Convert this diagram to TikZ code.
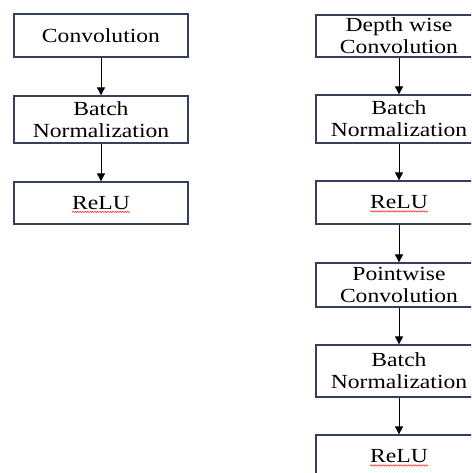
\documentclass[tikz,border=0pt]{standalone}
\usepackage{fontspec}
\setmainfont{Liberation Serif}
\newfontfamily\widefont[FakeStretch=1.18]{Liberation Serif}
\usetikzlibrary{arrows.meta,decorations.pathmorphing}
\definecolor{boxline}{HTML}{34405E}
\tikzset{
  blk/.style={draw=boxline, line width=1.3pt, rectangle, inner sep=0pt},
  lbl/.style={inner sep=0pt, align=center, font=\widefont\fontsize{20}{22}\selectfont},
  flow/.style={line width=0.9pt, -{Triangle[length=8pt,width=8pt]}},
  squiggle/.style={draw=red!85, line width=0.5pt, decorate, decoration={snake, amplitude=0.7pt, segment length=2.5pt}}
}
\begin{document}
\begin{tikzpicture}[x=1pt,y=1pt]
\useasboundingbox (0,0) rectangle (471,-473);
\clip (0,0) rectangle (471,-473);
% left column
\node[blk, minimum width=174pt, minimum height=43pt] (l1) at (101,-35.5) {};
\node[blk, minimum width=174pt, minimum height=47pt] (l2) at (101,-119.5) {};
\node[blk, minimum width=174pt, minimum height=42pt] (l3) at (101,-203) {};
\node[lbl] (l1t) at (l1) {Convolution};
\node[lbl] (l2t) at (l2) {Batch\\Normalization};
\node[lbl] (l3t) at (l3) {ReLU};
\draw[flow] (l1.south) -- (l2.north);
\draw[flow] (l2.south) -- (l3.north);
\draw[squiggle] ([yshift=-2.5pt]l3t.base west) -- ([yshift=-2.5pt]l3t.base east);
% right column
\node[blk, minimum width=166pt, minimum height=42pt] (r1) at (399,-36) {};
\node[blk, minimum width=166pt, minimum height=48pt] (r2) at (399,-119) {};
\node[blk, minimum width=166pt, minimum height=43pt] (r3) at (399,-202.5) {};
\node[blk, minimum width=166pt, minimum height=44pt] (r4) at (399,-285) {};
\node[blk, minimum width=166pt, minimum height=52pt] (r5) at (399,-371) {};
\node[blk, minimum width=166pt, minimum height=43pt] (r6) at (399,-456.5) {};
\node[lbl] (r1t) at (r1) {Depth wise\\Convolution};
\node[lbl] (r2t) at (r2) {Batch\\Normalization};
\node[lbl] (r3t) at (r3) {ReLU};
\node[lbl] (r4t) at (r4) {Pointwise\\Convolution};
\node[lbl] (r5t) at (r5) {Batch\\Normalization};
\node[lbl] (r6t) at (r6) {ReLU};
\draw[flow] (r1.south) -- (r2.north);
\draw[flow] (r2.south) -- (r3.north);
\draw[flow] (r3.south) -- (r4.north);
\draw[flow] (r4.south) -- (r5.north);
\draw[flow] (r5.south) -- (r6.north);
\draw[squiggle] ([yshift=-2.5pt]r3t.base west) -- ([yshift=-2.5pt]r3t.base east);
\draw[squiggle] ([yshift=-2.5pt]r6t.base west) -- ([yshift=-2.5pt]r6t.base east);
\end{tikzpicture}
\end{document}
